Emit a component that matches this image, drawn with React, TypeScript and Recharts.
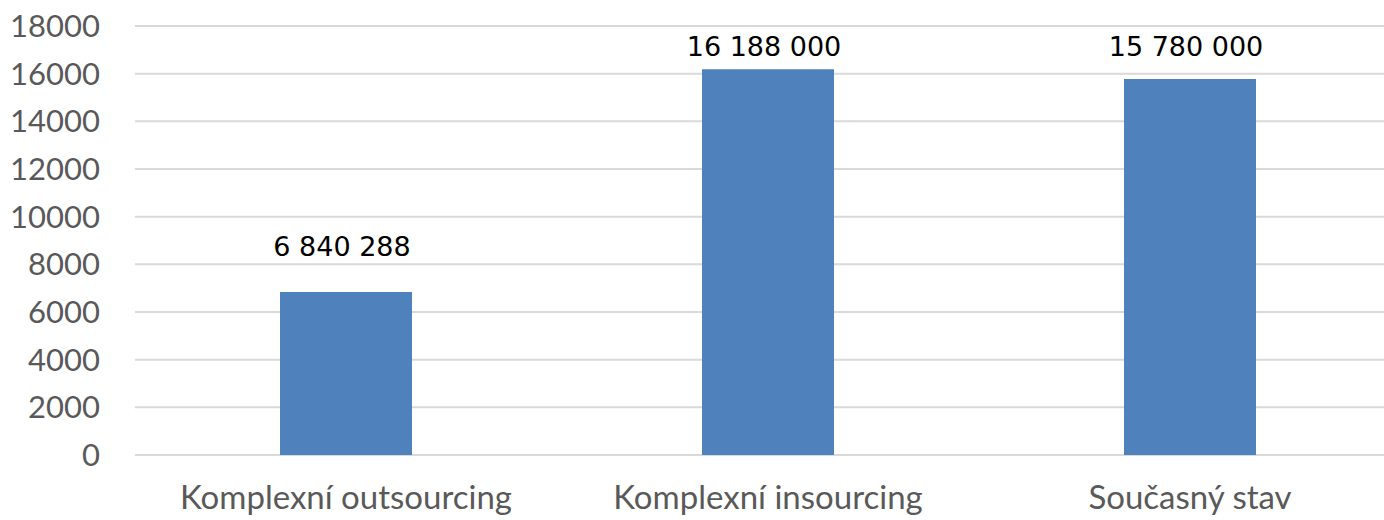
import React from "react";
import { BarChart, Bar, XAxis, YAxis, CartesianGrid, LabelList } from "recharts";

const categories = ["Komplexní outsourcing", "Komplexní insourcing", "Současný stav"];
const values = [6840.288, 16188, 15780];
const yTicks = [0, 2000, 4000, 6000, 8000, 10000, 12000, 14000, 16000, 18000];

const data = categories.map((name, i) => ({ name, value: values[i] }));

const fmt = (v: number) =>
  String(Math.round(v * 1000)).replace(/\B(?=(\d{3})+(?!\d))/g, " ");

const BarLabel = (props: any) => {
  const { x, y, width, value } = props;
  const baseline = Math.max(y - 36, 56);
  return (
    <text
      x={x + width / 2 - 4}
      y={baseline}
      textAnchor="middle"
      fill="#000"
      style={{ fontFamily: "DejaVu Sans", fontSize: 27 }}
    >
      {fmt(value)}
    </text>
  );
};

export default function App() {
  return (
    <div style={{ position: "absolute", left: 0, top: 0, width: 1384, height: 520, overflow: "hidden", background: "#fff" }}>
      <BarChart
        width={1401}
        height={520}
        data={data}
        margin={{ top: 26, right: 0, bottom: 0, left: 0 }}
        barSize={132}
      >
        <CartesianGrid vertical={false} stroke="#d9d9d9" strokeWidth={2} />
        <XAxis
          dataKey="name"
          axisLine={false}
          tickLine={false}
          height={65}
          tickMargin={25}
          interval={0}
          tick={{ fill: "#595959", fontFamily: "Lato", fontSize: 33 }}
        />
        <YAxis
          width={135}
          domain={[0, 18000]}
          ticks={yTicks}
          axisLine={false}
          tickLine={false}
          tickMargin={29}
          tick={{ fill: "#595959", fontFamily: "Lato", fontSize: 31 }}
        />
        <Bar dataKey="value" fill="#4f81bd" isAnimationActive={false}>
          <LabelList dataKey="value" content={BarLabel} />
        </Bar>
      </BarChart>
    </div>
  );
}
